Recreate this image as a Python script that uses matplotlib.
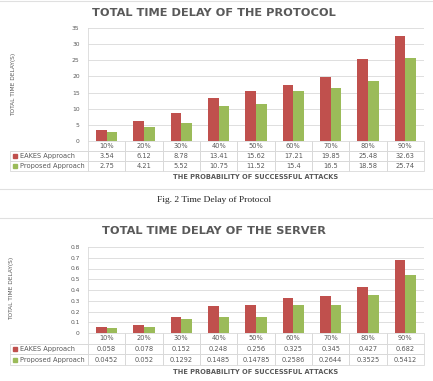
import matplotlib
matplotlib.use("Agg")
import matplotlib.pyplot as plt
from matplotlib.table import Table
from matplotlib.patches import Rectangle
import numpy as np

W, H = 433, 381

categories = ["10%", "20%", "30%", "40%", "50%", "60%", "70%", "80%", "90%"]
series_names = ["EAKES Approach", "Proposed Approach"]

protocol_eakes = [3.54, 6.12, 8.78, 13.41, 15.62, 17.21, 19.85, 25.48, 32.63]
protocol_proposed = [2.75, 4.21, 5.52, 10.75, 11.52, 15.4, 16.5, 18.58, 25.74]
protocol_ticks = [0, 5, 10, 15, 20, 25, 30, 35]

server_eakes = [0.058, 0.078, 0.152, 0.248, 0.256, 0.325, 0.345, 0.427, 0.682]
server_proposed = [0.0452, 0.052, 0.1292, 0.1485, 0.14785, 0.2586, 0.2644, 0.3525, 0.5412]
server_eakes_txt = ["0.058", "0.078", "0.152", "0.248", "0.256", "0.325", "0.345", "0.427", "0.682"]
server_proposed_txt = ["0.0452", "0.052", "0.1292", "0.1485", "0.14785", "0.2586", "0.2644", "0.3525", "0.5412"]
server_ticks = [0, 0.1, 0.2, 0.3, 0.4, 0.5, 0.6, 0.7, 0.8]

RED = "#C0504D"
GREEN = "#9BBB59"
GRID = "#d9d9d9"
TXT = "#595959"

fig = plt.figure(figsize=(W / 100, H / 100), dpi=100)
fig.patch.set_facecolor("white")


def px_axes(left, top, right, bottom):
    return fig.add_axes([left / W, 1 - bottom / H, (right - left) / W, (bottom - top) / H])


def draw_chart(ax_box, title, title_y, yl_x, yl_y, eakes, proposed, eakes_txt, proposed_txt,
               ticks, ticklabels, table_bottom, xlabel_y):
    left, top, right, bottom = ax_box
    ax = px_axes(left, top, right, bottom)
    x = np.arange(len(categories))
    bw = 0.29
    ax.bar(x - bw / 2, eakes, bw, color=RED, zorder=3)
    ax.bar(x + bw / 2, proposed, bw, color=GREEN, zorder=3)
    ax.set_xlim(-0.5, len(categories) - 0.5)
    ax.set_ylim(ticks[0], ticks[-1])
    ax.set_yticks(ticks)
    ax.set_yticklabels(ticklabels)
    ax.set_xticks([])
    ax.grid(axis="y", color=GRID, lw=0.6, zorder=0)
    for s in ["top", "right", "bottom"]:
        ax.spines[s].set_visible(False)
    ax.spines["left"].set_color(GRID)
    ax.spines["left"].set_linewidth(0.6)
    ax.tick_params(axis="y", length=0, labelsize=4.3, labelcolor=TXT, pad=6)

    # data table under the plot
    tab_left = 10
    h_ax = bottom - top
    w_ax = right - left
    tbl = Table(ax, bbox=[(tab_left - left) / w_ax, -(table_bottom - bottom) / h_ax,
                          (right - tab_left) / w_ax, (table_bottom - bottom) / h_ax])
    rows = [[""] + categories, [series_names[0]] + eakes_txt, [series_names[1]] + proposed_txt]
    for r, row in enumerate(rows):
        for c, val in enumerate(row):
            cw = 78 if c == 0 else (right - left) / len(categories)
            cell = tbl.add_cell(r, c, cw, 1, text=val, loc="left" if c == 0 else "center",
                                edgecolor=GRID, facecolor="none")
            cell.set_linewidth(0.6)
            cell.get_text().set_color(TXT)
            if c == 0:
                cell.PAD = 0.13
                if r == 0:
                    cell.visible_edges = "B"
    tbl.auto_set_font_size(False)
    tbl.set_fontsize(4.8)
    ax.add_table(tbl)

    # legend keys inside the table row labels
    rh = (table_bottom - bottom) / 3
    for i, col in enumerate([RED, GREEN]):
        cy = bottom + rh * (1.5 + i)
        fig.patches.append(Rectangle(((tab_left + 2.5) / W, 1 - (cy + 2) / H), 4 / W, 4 / H,
                                     transform=fig.transFigure, color=col, figure=fig))

    fig.text(214 / W, 1 - title_y / H, title, ha="center", va="center", fontsize=8.2,
             fontweight="bold", color=TXT)
    fig.text(yl_x / W, 1 - yl_y / H, "TOTAL TIME DELAY(S)", rotation=90, ha="center",
             va="center", fontsize=4.2, color=TXT)
    fig.text(256 / W, 1 - xlabel_y / H, "THE PROBABILITY OF SUCCESSFUL ATTACKS", ha="center",
             va="center", fontsize=4.8, fontweight="bold", color=TXT)
    return ax


draw_chart((88, 28, 424, 141), "TOTAL TIME DELAY OF THE PROTOCOL", 13, 14, 84,
           protocol_eakes, protocol_proposed,
           [f"{v:g}" for v in protocol_eakes], [f"{v:g}" for v in protocol_proposed],
           protocol_ticks, [str(t) for t in protocol_ticks], 171, 177)

draw_chart((88, 247, 424, 333), "TOTAL TIME DELAY OF THE SERVER", 231, 12, 288,
           server_eakes, server_proposed, server_eakes_txt, server_proposed_txt,
           server_ticks, [f"{t:g}" for t in server_ticks], 365, 372)

# separators and caption
for yy in [1, 189, 218]:
    fig.add_artist(plt.Line2D([0, 1], [1 - yy / H] * 2, color="#e0e0e0", lw=0.8,
                              transform=fig.transFigure))
fig.text(214 / W, 1 - 200 / H, "Fig. 2 Time Delay of Protocol", ha="center", va="center",
         fontsize=6.8, family="Liberation Serif", color="#222222")

fig.savefig("out.png", dpi=100)
